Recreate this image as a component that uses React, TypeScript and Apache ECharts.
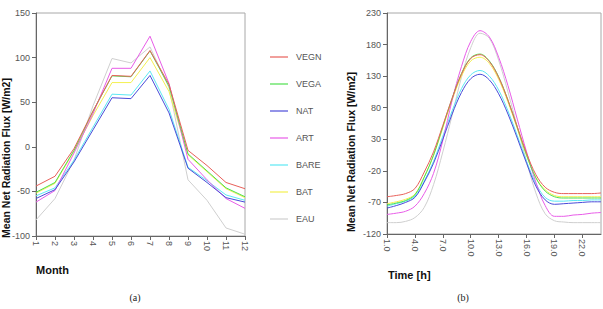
import React, { useEffect, useRef } from "react";
import * as echarts from "echarts";

// Surface classes shown in both panels
const seriesNames = ["VEGN", "VEGA", "NAT", "ART", "BARE", "BAT", "EAU"];
const seriesColors = ["#e8605a", "#4ee04e", "#4a4ad8", "#e85ce8", "#5ce8f4", "#f4f050", "#cfcfcf"];

// Panel (a): monthly mean net radiation flux
const months = ["1", "2", "3", "4", "5", "6", "7", "8", "9", "10", "11", "12"];
const monthlyVEGN = [-44, -33, -2, 40, 80, 79, 108, 70, -4, -21, -40, -47];
const monthlyVEGA = [-51, -40, -4, 40, 79.5, 78.5, 107.5, 68, -8, -27, -46, -56];
const monthlyNAT = [-58, -48, -17, 19, 55, 54, 80, 38, -24, -40, -57, -62];
const monthlyART = [-62, -49, -7, 37, 88, 88, 124, 71, -14, -37, -58, -69];
const monthlyBARE = [-55, -46, -15, 22, 59, 58, 85, 42, -23, -38, -54, -60];
const monthlyBAT = [-52, -41, -5, 35, 72, 72, 100, 62, -9, -28, -47, -57];
const monthlyEAU = [-82, -58, -15, 46, 99, 94, 112, 66, -37, -60, -91, -98];
const monthlyTicks = [-100, -50, 0, 50, 100, 150];

// Panel (b): hourly mean net radiation flux
const hours = [
  "1.0", "2.0", "3.0", "4.0", "5.0", "6.0", "7.0", "8.0", "9.0", "10.0", "11.0", "12.0",
  "13.0", "14.0", "15.0", "16.0", "17.0", "18.0", "19.0", "20.0", "21.0", "22.0", "23.0", "24.0",
];
const hourlyVEGN = [-61, -59, -56, -48, -22, 10, 52, 95, 133, 158, 164, 153, 128, 92, 50, 8, -26, -46, -54, -56, -56, -56, -56, -55];
const hourlyVEGA = [-74, -71, -67, -58, -30, 5, 50, 95, 134, 159, 165, 154, 129, 92, 49, 5, -31, -52, -61, -63, -63, -63, -63, -63];
const hourlyNAT = [-79, -75, -70, -62, -38, -8, 30, 70, 104, 126, 133, 124, 102, 70, 32, -8, -44, -66, -73, -72, -71, -70, -69, -69];
const hourlyART = [-89, -87, -84, -76, -56, -24, 28, 92, 145, 185, 202, 192, 160, 115, 62, 10, -38, -75, -92, -92, -90, -89, -87, -86];
const hourlyBARE = [-76, -72, -68, -60, -36, -5, 35, 75, 110, 132, 139, 130, 108, 75, 36, -5, -40, -62, -68, -68, -67, -67, -66, -66];
const hourlyBAT = [-72, -69, -65, -57, -30, 4, 48, 92, 130, 154, 160, 150, 125, 89, 47, 4, -31, -50, -59, -61, -61, -61, -61, -61];
const hourlyEAU = [-102, -102, -100, -94, -78, -42, 10, 68, 128, 175, 198, 190, 155, 105, 50, -5, -55, -88, -99, -101, -102, -102, -102, -102];

const monthlySeries = [monthlyVEGN, monthlyVEGA, monthlyNAT, monthlyART, monthlyBARE, monthlyBAT, monthlyEAU];
const hourlySeries = [hourlyVEGN, hourlyVEGA, hourlyNAT, hourlyART, hourlyBARE, hourlyBAT, hourlyEAU];

const sans = "'Liberation Sans', Arial, sans-serif";
const serif = "'Liberation Serif', 'Times New Roman', serif";

export default function App() {
  const ref = useRef<HTMLDivElement>(null);

  useEffect(() => {
    if (!ref.current) return;
    const chart = echarts.init(ref.current, undefined, { renderer: "svg" });

    const axisLabelStyle = { color: "#555", fontSize: 9, fontFamily: sans };
    const axisLineStyle = { onZero: false, lineStyle: { color: "#666", width: 1 } };

    const lineSeries = (data: number[], idx: number, axis: number, smooth: number | boolean) => ({
      type: "line",
      name: seriesNames[idx],
      data,
      xAxisIndex: axis,
      yAxisIndex: axis,
      symbol: "none",
      smooth,
      color: seriesColors[idx],
      lineStyle: { width: 1, color: seriesColors[idx] },
      z: 10 - idx,
    });

    chart.setOption({
      animation: false,
      backgroundColor: "#ffffff",
      grid: [
        { left: 36, top: 13, width: 209, height: 223, show: true, borderColor: "#a8a8a8", borderWidth: 1 },
        { left: 387, top: 13, width: 214, height: 221, show: true, borderColor: "#a8a8a8", borderWidth: 1 },
      ],
      legend: {
        orient: "vertical",
        left: 270,
        top: 51,
        padding: 0,
        icon: "rect",
        itemWidth: 18,
        itemHeight: 1.2,
        itemGap: 15,
        data: seriesNames,
        textStyle: { color: "#555", fontSize: 9, lineHeight: 12, fontFamily: sans, padding: [0, 0, 0, 3] },
      },
      xAxis: [
        {
          type: "category",
          gridIndex: 0,
          data: months,
          boundaryGap: false,
          axisLine: axisLineStyle,
          axisTick: { show: true, length: 4, lineStyle: { color: "#666" } },
          axisLabel: { ...axisLabelStyle, rotate: -90, margin: 5, interval: 0 },
        },
        {
          type: "category",
          gridIndex: 1,
          data: hours,
          boundaryGap: false,
          axisLine: axisLineStyle,
          axisTick: { show: true, length: 4, interval: 2, lineStyle: { color: "#666" } },
          axisLabel: { ...axisLabelStyle, rotate: -90, margin: 5, interval: 2 },
        },
      ],
      yAxis: [
        {
          type: "value",
          gridIndex: 0,
          min: monthlyTicks[0],
          max: monthlyTicks[monthlyTicks.length - 1],
          interval: 50,
          axisLine: { show: true, ...axisLineStyle },
          axisTick: { show: true, length: 4, lineStyle: { color: "#666" } },
          splitLine: { show: false },
          axisLabel: { ...axisLabelStyle, margin: 6 },
        },
        {
          type: "value",
          gridIndex: 1,
          min: -120,
          max: 230,
          interval: 50,
          axisLine: { show: true, ...axisLineStyle },
          axisTick: { show: true, length: 4, lineStyle: { color: "#666" } },
          splitLine: { show: false },
          axisLabel: { ...axisLabelStyle, margin: 6 },
        },
      ],
      series: [
        ...monthlySeries.map((d, i) => lineSeries(d, i, 0, false)),
        ...hourlySeries.map((d, i) => lineSeries(d, i, 1, 0.35)),
      ],
      graphic: [
        {
          type: "text",
          x: 6,
          y: 158,
          rotation: Math.PI / 2,
          style: {
            text: "Mean Net Radiation Flux [W/m2]",
            fontSize: 10.5,
            fontWeight: "bold",
            fontFamily: sans,
            fill: "#111",
            align: "center",
            verticalAlign: "middle",
          },
        },
        {
          type: "text",
          x: 351,
          y: 152,
          rotation: Math.PI / 2,
          style: {
            text: "Mean Net Radiation Flux [W/m2]",
            fontSize: 10.5,
            fontWeight: "bold",
            fontFamily: sans,
            fill: "#111",
            align: "center",
            verticalAlign: "middle",
          },
        },
        {
          type: "text",
          x: 36,
          y: 270,
          style: {
            text: "Month",
            fontSize: 11,
            fontWeight: "bold",
            fontFamily: sans,
            fill: "#111",
            align: "left",
            verticalAlign: "middle",
          },
        },
        {
          type: "text",
          x: 388,
          y: 275,
          style: {
            text: "Time [h]",
            fontSize: 11,
            fontWeight: "bold",
            fontFamily: sans,
            fill: "#111",
            align: "left",
            verticalAlign: "middle",
          },
        },
        {
          type: "text",
          x: 135,
          y: 297,
          style: { text: "(a)", fontSize: 10, fontFamily: serif, fill: "#222", align: "center", verticalAlign: "middle" },
        },
        {
          type: "text",
          x: 463,
          y: 297,
          style: { text: "(b)", fontSize: 10, fontFamily: serif, fill: "#222", align: "center", verticalAlign: "middle" },
        },
      ],
    });

    return () => chart.dispose();
  }, []);

  return (
    <div
      ref={ref}
      style={{ position: "fixed", left: 0, top: 0, width: 603, height: 309, background: "#fff" }}
    />
  );
}
